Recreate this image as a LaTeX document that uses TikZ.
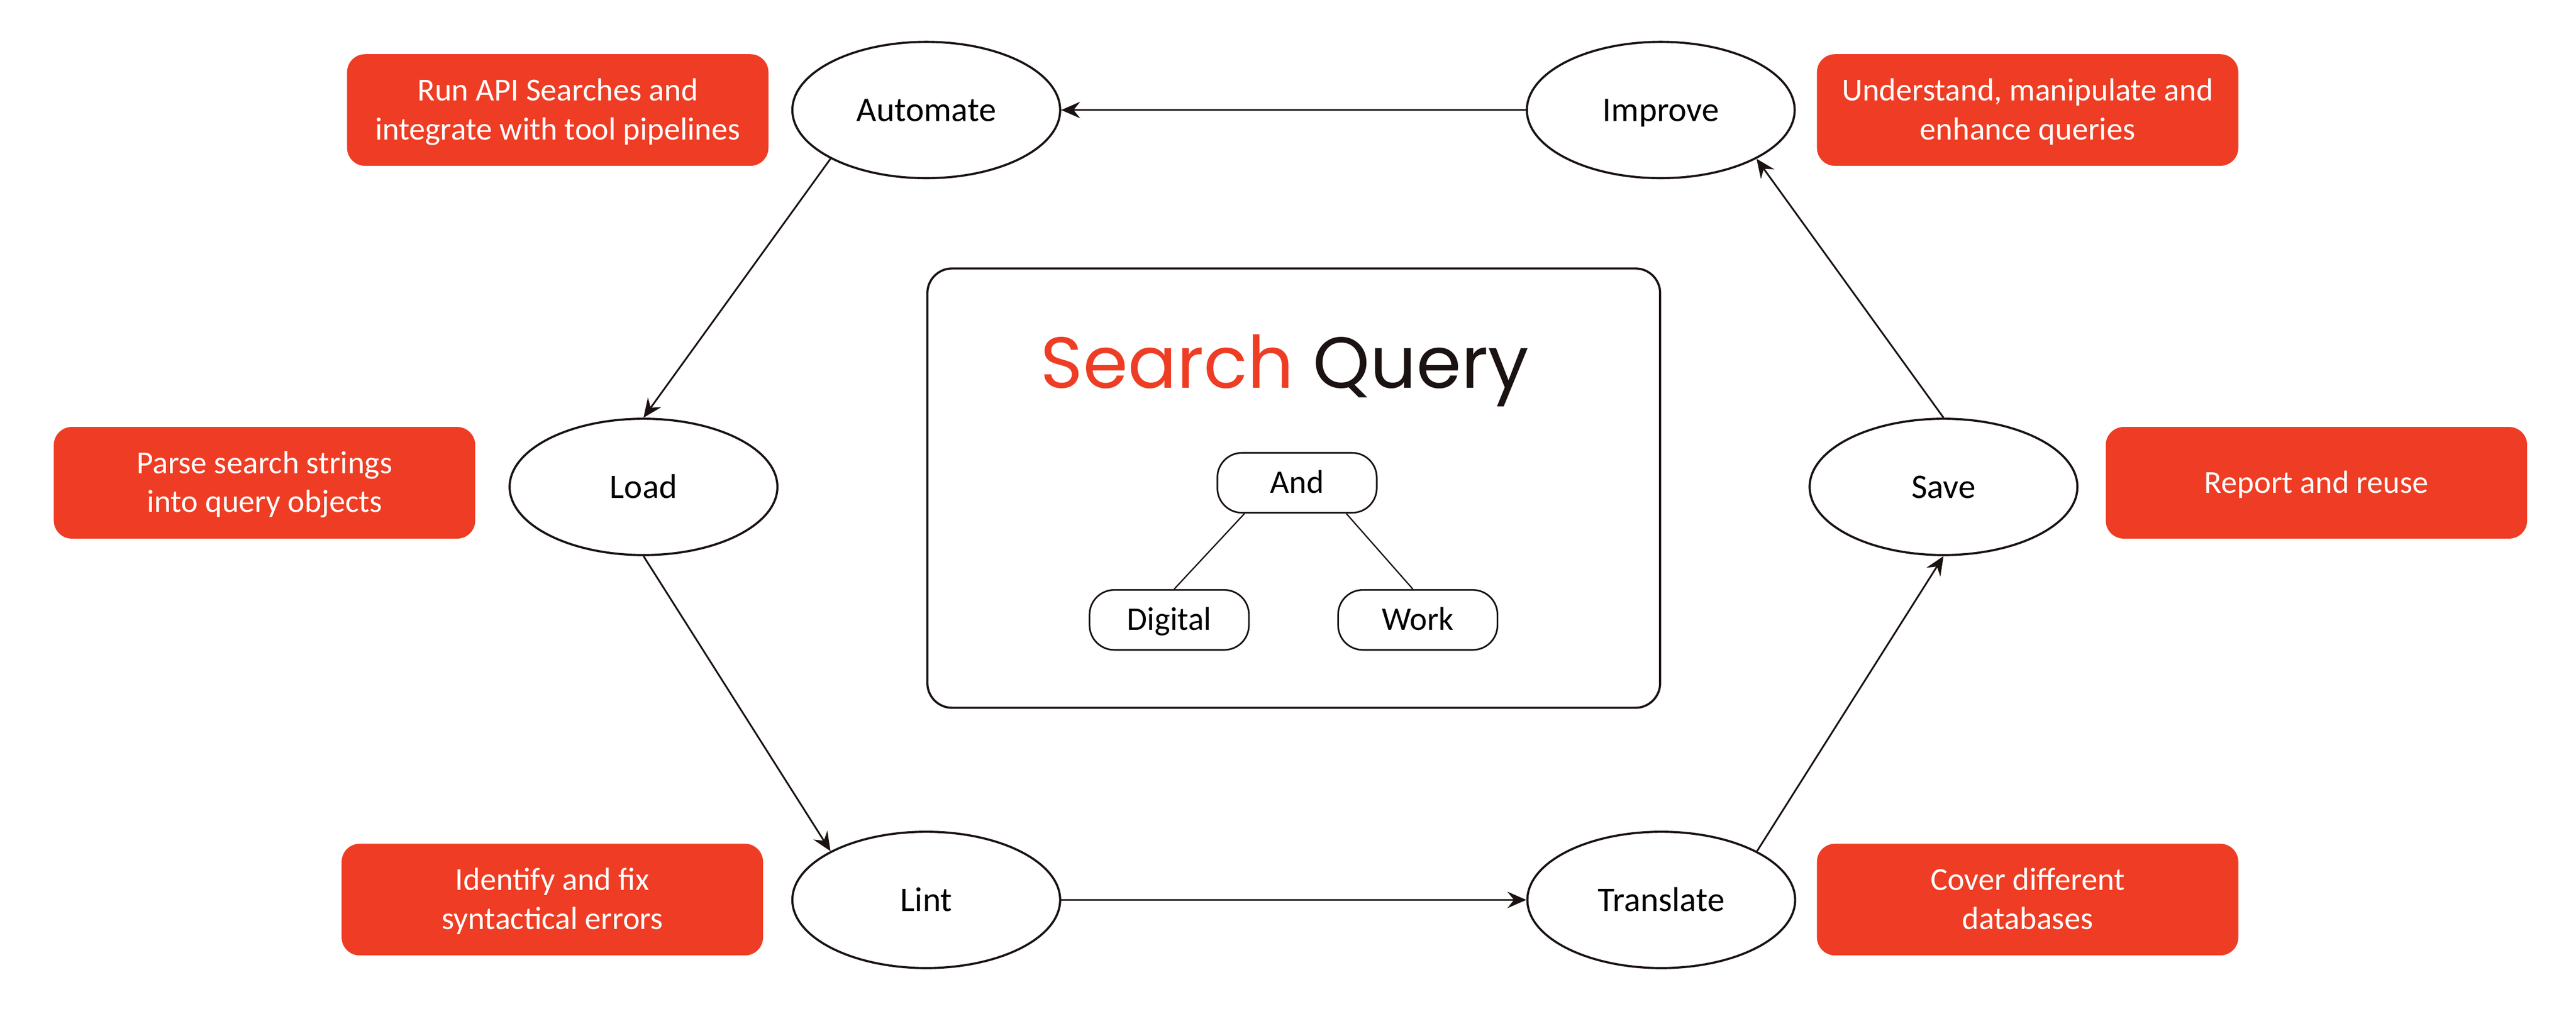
\documentclass[tikz,border=0pt]{standalone}
\usepackage{fontspec}
\setmainfont{Carlito}
\newfontfamily\titlefont{Poppins}
\usetikzlibrary{arrows.meta,shapes.geometric,calc}
\definecolor{qred}{RGB}{238,61,36}
\definecolor{ink}{RGB}{26,19,17}
\newcommand\duo[2]{\vtop{\baselineskip=23.6pt\lineskiplimit=-100pt\hbox to 250pt{\hfil #1\hfil}\hbox to 250pt{\hfil #2\hfil}}}
\tikzset{
  stage/.style={ellipse, draw=ink, line width=1.3pt, minimum width=163pt, minimum height=83pt, inner sep=0pt, text height=14pt, text depth=0pt, font=\fontsize{21}{25}\selectfont},
  note/.style={rounded corners=11pt, fill=qred, text=white, minimum width=256.5pt, minimum height=68pt, inner sep=0pt, text height=14pt, text depth=25.2pt, font=\fontsize{19.5}{23.6}\selectfont},
  term/.style={draw=ink, line width=1pt, rounded corners=15pt, minimum width=97pt, minimum height=36.5pt, inner sep=0pt, text height=12.5pt, text depth=0pt, font=\fontsize{20}{24}\selectfont},
  arr/.style={draw=ink, line width=1.05pt, -{Stealth[length=11.5pt, width=10pt, inset=4pt]}},
  link/.style={draw=ink, line width=0.8pt}
}
\begin{document}
\begin{tikzpicture}[x=1pt, y=-1pt]
\useasboundingbox (0,0) rectangle (1568,617.26);
\fill[white] (0,0) rectangle (1568,617.26);

% central panel
\draw[ink, line width=1.3pt, rounded corners=15pt] (564.5,163.5) rectangle (1010.5,431);
\node[anchor=base, inner sep=0pt, font=\titlefont\fontsize{44}{50}\selectfont] (title) at (782,236.3) {\textcolor{qred}{Search} \textcolor{ink}{Query}};
\node[term] (and) at (789.5,294) {And};
\node[term] (digital) at (711.7,377.5) {Digital};
\node[term] (work) at (863,377.5) {Work};
\draw[link] ($(and.south)+(-32,0)$) -- ($(digital.north)+(3,0)$);
\draw[link] ($(and.south)+(30,0)$) -- ($(work.north)+(-3,0)$);

% stages
\node[stage] (automate) at (563.8,67) {Automate};
\node[stage] (improve) at (1010.9,67) {Improve};
\node[stage] (load) at (391.7,296.5) {Load};
\node[stage] (save) at (1183,296.5) {Save};
\node[stage] (lint) at (563.8,548) {Lint};
\node[stage] (translate) at (1011.2,548) {Translate};

% notes
\node[note] (n1) at (339.5,67) {\duo{Run API Searches and}{integrate with tool pipelines}};
\node[note] (n2) at (1234.2,67) {\duo{Understand, manipulate and}{enhance queries}};
\node[note] (n3) at (161,294) {\duo{Parse search strings}{into query objects}};
\node[note, text depth=1.2pt] (n4) at (1410,294) {Report and reuse};
\node[note] (n5) at (336.2,547.8) {\duo{Identify and fix}{syntactical errors}};
\node[note] (n6) at (1234.2,547.8) {\duo{Cover different}{databases}};

% cycle
\draw[arr] (improve.west) -- (automate.east);
\draw[arr] (automate.207) -- (load.north);
\draw[arr] (load.south) -- (lint.153);
\draw[arr] (lint.east) -- (translate.west);
\draw[arr] (translate.27) -- (save.south);
\draw[arr] (save.north) -- (improve.-27);
\end{tikzpicture}
\end{document}
